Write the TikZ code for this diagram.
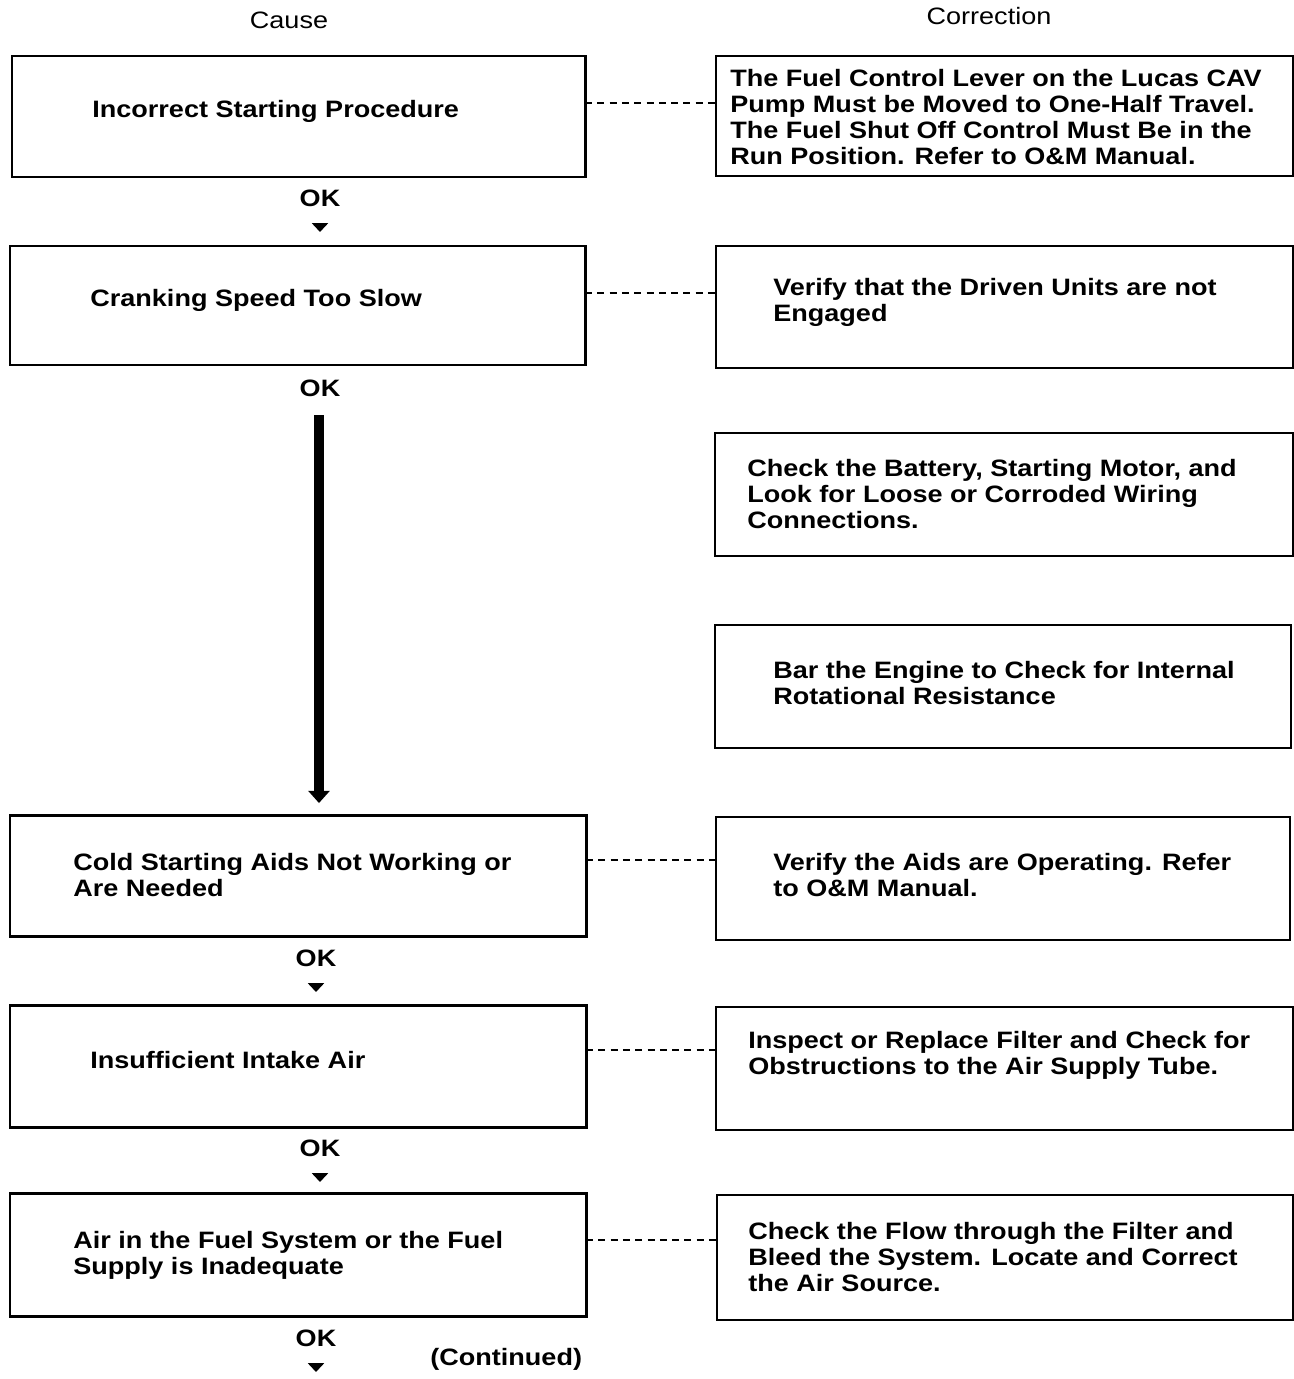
\documentclass[tikz,border=0pt]{standalone}
\usepackage{fontspec}
\setmainfont{Liberation Sans}[FakeStretch=1.14]
\usetikzlibrary{arrows.meta}
\begin{document}
\begin{tikzpicture}[x=0.02cm,y=-0.02cm,
  causebox/.style={draw,line width=1.7pt},
  fixbox/.style={draw,line width=1.1pt},
  txt/.style={anchor=west,align=left,font=\fontsize{13.5}{14.8}\selectfont\bfseries,inner sep=0pt},
  hdr/.style={font=\fontsize{13.5}{15}\selectfont,inner sep=0pt},
  oklab/.style={font=\fontsize{13.5}{15}\selectfont\bfseries,inner sep=0pt},
  tie/.style={dashed,line width=0.8pt,dash pattern=on 4pt off 3pt},
  okarrow/.style={line width=3.5pt,-{Triangle[width=9pt,length=5pt]},shorten <=11pt},
  bigarrow/.style={line width=5.5pt,-{Triangle[width=12pt,length=7pt]}}
]
\useasboundingbox (0,0) rectangle (1294,1379);

% column headings
\node[hdr] (hcause) at (289,20) {Cause};
\node[hdr] (hfix) at (989,16) {Correction};

% causes
\draw[causebox] (12,56) rectangle (585,177);
\coordinate (c1e) at (585,103);
\node[txt] (c1) at (92,111) {Incorrect Starting Procedure};

\draw[causebox] (10,246) rectangle (585,365);
\coordinate (c2e) at (585,293);
\node[txt] (c2) at (90,300) {Cranking Speed Too Slow};

\draw[causebox] (10,815) rectangle (586,936);
\coordinate (c3e) at (586,860);
\coordinate (c3n) at (319,815);
\node[txt] (c3) at (73,875) {Cold Starting Aids Not Working or\\Are Needed};

\draw[causebox] (10,1005) rectangle (586,1127);
\coordinate (c4e) at (586,1050);
\node[txt] (c4) at (90,1060) {Insufficient Intake Air};

\draw[causebox] (10,1193) rectangle (586,1316);
\coordinate (c5e) at (586,1240);
\node[txt] (c5) at (73,1255) {Air in the Fuel System or the Fuel\\Supply is Inadequate};

% corrections
\draw[fixbox] (716,56) rectangle (1293,176);
\coordinate (f1w) at (716,103);
\node[txt] (f1) at (730,117) {The Fuel Control Lever on the Lucas CAV\\Pump Must be Moved to One-Half Travel.\\The Fuel Shut Off Control Must Be in the\\Run Position. Refer to O\&M Manual.};

\draw[fixbox] (716,246) rectangle (1293,368);
\coordinate (f2w) at (716,293);
\node[txt] (f2) at (773,302) {Verify that the Driven Units are not\\Engaged};

\draw[fixbox] (715,433) rectangle (1293,556);
\node[txt] (f3) at (747,494) {Check the Battery, Starting Motor, and\\Look for Loose or Corroded Wiring\\Connections.};

\draw[fixbox] (715,625) rectangle (1291,748);
\node[txt] (f4) at (773,683) {Bar the Engine to Check for Internal\\Rotational Resistance};

\draw[fixbox] (716,817) rectangle (1290,940);
\coordinate (f5w) at (716,860);
\node[txt] (f5) at (773,875) {Verify the Aids are Operating. Refer\\to O\&M Manual.};

\draw[fixbox] (716,1007) rectangle (1293,1130);
\coordinate (f6w) at (716,1050);
\node[txt] (f6) at (748,1055) {Inspect or Replace Filter and Check for\\Obstructions to the Air Supply Tube.};

\draw[fixbox] (717,1195) rectangle (1293,1320);
\coordinate (f7w) at (717,1240);
\node[txt] (f7) at (748,1257) {Check the Flow through the Filter and\\Bleed the System. Locate and Correct\\the Air Source.};

% cause-to-correction ties
\draw[tie] (c1e) -- (f1w);
\draw[tie] (c2e) -- (f2w);
\draw[tie] (c3e) -- (f5w);
\draw[tie] (c4e) -- (f6w);
\draw[tie] (c5e) -- (f7w);

% OK flow
\node[oklab] (ok1) at (320,198) {OK};
\coordinate (a1) at (320,232);
\draw[okarrow] (ok1.south) -- (a1);

\node[oklab] (ok2) at (320,388) {OK};
\coordinate (b2) at (319,415);
\draw[bigarrow] (b2) -- ([yshift=6.8pt]c3n);

\node[oklab] (ok3) at (316,958) {OK};
\coordinate (a3) at (316,992);
\draw[okarrow] (ok3.south) -- (a3);

\node[oklab] (ok4) at (320,1148) {OK};
\coordinate (a4) at (320,1182);
\draw[okarrow] (ok4.south) -- (a4);

\node[oklab] (ok5) at (316,1338) {OK};
\coordinate (a5) at (316,1372);
\draw[okarrow] (ok5.south) -- (a5);

\node[txt] (cont) at (430,1359) {(Continued)};
\end{tikzpicture}
\end{document}
